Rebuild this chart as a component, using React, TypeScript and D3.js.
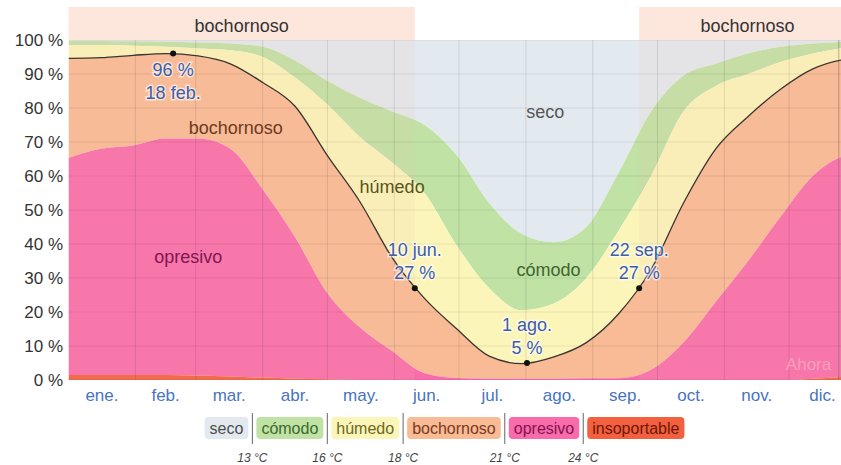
import * as d3 from "d3";
import { useEffect, useRef } from "react";

// day of year samples, ~every 15 days
const days = [0, 15, 30, 45, 60, 75, 90, 105, 120, 135, 150, 165, 180, 195, 210, 225, 240, 255, 270, 285, 300, 315, 330, 345, 360, 365];

// cumulative tops of each band (%)
const insoportableTop = [1.5, 1.5, 1.5, 1.5, 1.3, 1.0, 0.7, 0.4, 0.2, 0, 0, 0, 0, 0, 0, 0, 0, 0, 0, 0, 0, 0, 0, 0.4, 1.0, 1.3];
const opresivoTop = [65.3, 68, 69, 71, 71, 68, 56, 42, 25.5, 15.5, 8.5, 2, 0.6, 0.4, 0.4, 0.4, 0.5, 0.5, 3, 11, 23, 35, 48, 60, 66, 66.5];
const bochornosoTop = [94.6, 94.8, 95.5, 96, 95.3, 93, 87.5, 80.5, 66, 52.5, 36, 24, 15, 7, 4.8, 6.8, 11, 19.5, 32.5, 52, 68, 77.5, 85.5, 91.5, 94.3, 94.6];
const humedoTop = [98.5, 98.5, 98.3, 98, 97.5, 97, 95, 89, 81, 71.5, 64, 55, 39.5, 27, 20.5, 22.5, 30, 44, 60, 79, 86.5, 90, 93.5, 96, 97.8, 98.3];
const comodoTop = [99.7, 99.7, 99.6, 99.5, 99.3, 99, 98, 94, 88, 83, 79, 75, 66, 52, 43, 40.5, 45, 61, 79, 89.5, 93, 96, 98, 99, 99.5, 99.7];

const months = ["ene.", "feb.", "mar.", "abr.", "may.", "jun.", "jul.", "ago.", "sep.", "oct.", "nov.", "dic."];
const monthStarts = [0, 31, 59, 90, 120, 151, 181, 212, 243, 273, 304, 334, 365];
const yTicks = [0, 10, 20, 30, 40, 50, 60, 70, 80, 90, 100];

const highlights = [
  { day: 48.5, value: 96, lines: ["96 %", "18 feb."], below: true },
  { day: 160.5, value: 27, lines: ["10 jun.", "27 %"], below: false },
  { day: 212.5, value: 5, lines: ["1 ago.", "5 %"], below: false },
  { day: 264.5, value: 27, lines: ["22 sep.", "27 %"], below: false },
];
const muggyPeriods = [[0, 160.5], [264.5, 365]];
const nowDay = 357;

const legendNames = ["seco", "cómodo", "húmedo", "bochornoso", "opresivo", "insoportable"];
const legendFill = ["#e3eaef", "#c0e2a5", "#fcf5ba", "#f9bb95", "#f86cab", "#f2603f"];
const legendText = ["#4d4d4d", "#3c6a2c", "#6a6a22", "#7a3a1c", "#861250", "#6e1608"];
const thresholds = ["13 °C", "16 °C", "18 °C", "21 °C", "24 °C"];

const W = 841;
const H = 465;
const FONT = "'Liberation Sans', Arial, sans-serif";

export default function App() {
  const ref = useRef(null);

  useEffect(() => {
    const svg = d3.select(ref.current);
    svg.selectAll("*").remove();

    const x = d3.scaleLinear().domain([0, 365]).range([68.5, 856]);
    const y = d3.scaleLinear().domain([0, 100]).range([380, 40]);

    svg.append("defs").append("clipPath").attr("id", "plot")
      .append("rect").attr("x", x(0)).attr("y", y(100))
      .attr("width", x(365) - x(0)).attr("height", y(0) - y(100));

    // muggy period band above plot
    svg.append("g").selectAll("rect").data(muggyPeriods).join("rect")
      .attr("x", (d) => x(d[0])).attr("width", (d) => x(d[1]) - x(d[0]))
      .attr("y", 7).attr("height", y(100) - 7)
      .attr("fill", "#fde6dc");

    const plot = svg.append("g").attr("clip-path", "url(#plot)");

    const rows = days.map((d, i) => ({
      day: d,
      tops: [insoportableTop[i], opresivoTop[i], bochornosoTop[i], humedoTop[i], comodoTop[i], 100],
    }));

    // bands: index 0 insoportable ... 5 seco
    [5, 4, 3, 2, 1, 0].forEach((k) => {
      const area = d3.area()
        .x((d) => x(d.day))
        .y0((d) => y(k === 0 ? 0 : d.tops[k - 1]))
        .y1((d) => y(d.tops[k]))
        .curve(d3.curveMonotoneX);
      plot.append("path").datum(rows)
        .attr("d", area)
        .attr("fill", legendFill[5 - k]);
    });

    // overlay of muggy period over the plot
    plot.append("g").selectAll("rect").data(muggyPeriods).join("rect")
      .attr("x", (d) => x(d[0])).attr("width", (d) => x(d[1]) - x(d[0]))
      .attr("y", y(100)).attr("height", y(0) - y(100))
      .attr("fill", "#f0c0aa").attr("opacity", 0.13);

    // grid
    plot.append("g").selectAll("line").data(yTicks).join("line")
      .attr("x1", x(0)).attr("x2", x(365))
      .attr("y1", (d) => y(d)).attr("y2", (d) => y(d))
      .attr("stroke", "#000").attr("stroke-opacity", 0.08);
    plot.append("g").selectAll("line").data(monthStarts.slice(1, 12)).join("line")
      .attr("x1", (d) => x(d)).attr("x2", (d) => x(d))
      .attr("y1", y(100)).attr("y2", y(0))
      .attr("stroke", "#000").attr("stroke-opacity", 0.1);

    // now line
    plot.append("line")
      .attr("x1", x(nowDay)).attr("x2", x(nowDay))
      .attr("y1", y(100)).attr("y2", y(0))
      .attr("stroke", "#666").attr("stroke-opacity", 0.45);

    // muggy line
    const line = d3.line()
      .x((d) => x(d.day))
      .y((d) => y(d.tops[2]))
      .curve(d3.curveMonotoneX);
    plot.append("path").datum(rows)
      .attr("d", line)
      .attr("fill", "none")
      .attr("stroke", "#3b3530")
      .attr("stroke-width", 1.3);

    // region labels
    const labels = [
      { t: "seco", day: 221, v: 77, c: "#555" },
      { t: "bochornoso", day: 77.5, v: 72.5, c: "#6e3a1e" },
      { t: "húmedo", day: 150, v: 55, c: "#55551c" },
      { t: "opresivo", day: 55.5, v: 34.5, c: "#7f1650" },
      { t: "cómodo", day: 222.5, v: 30.5, c: "#3e6430" },
    ];
    svg.append("g").selectAll("text").data(labels).join("text")
      .attr("x", (d) => x(d.day)).attr("y", (d) => y(d.v))
      .attr("text-anchor", "middle")
      .attr("font-family", FONT).attr("font-size", 18)
      .attr("fill", (d) => d.c)
      .text((d) => d.t);

    svg.append("text")
      .attr("x", x(343)).attr("y", 370)
      .attr("text-anchor", "middle")
      .attr("font-family", FONT).attr("font-size", 17)
      .attr("fill", "#f79ec0")
      .text("Ahora");

    // top band labels
    svg.append("g").selectAll("text").data(muggyPeriods).join("text")
      .attr("x", (d) => (x(d[0]) + x(d[1])) / 2).attr("y", 32)
      .attr("text-anchor", "middle")
      .attr("font-family", FONT).attr("font-size", 18)
      .attr("fill", "#333")
      .text("bochornoso");

    // highlighted points
    const hl = svg.append("g");
    highlights.forEach((h) => {
      const px = x(h.day);
      const py = y(h.value);
      hl.append("circle").attr("cx", px).attr("cy", py).attr("r", 3).attr("fill", "#111");
      h.lines.forEach((t, i) => {
        const dy = h.below ? 22 + i * 23 : -32 + i * 23;
        hl.append("text")
          .attr("x", px).attr("y", py + dy)
          .attr("text-anchor", "middle")
          .attr("font-family", FONT).attr("font-size", 18)
          .attr("fill", "#3d5eaa")
          .attr("stroke", "#fff").attr("stroke-width", 3).attr("stroke-opacity", 0.6)
          .attr("paint-order", "stroke")
          .text(t);
      });
    });

    // y axis labels
    svg.append("g").selectAll("text").data(yTicks).join("text")
      .attr("x", 63).attr("y", (d) => y(d))
      .attr("dy", "0.36em")
      .attr("text-anchor", "end")
      .attr("font-family", FONT).attr("font-size", 17)
      .attr("fill", "#333")
      .text((d) => `${d} %`);

    // month labels
    svg.append("g").selectAll("text").data(months).join("text")
      .attr("x", (d, i) => (x(monthStarts[i]) + x(monthStarts[i + 1])) / 2)
      .attr("y", 401)
      .attr("text-anchor", "middle")
      .attr("font-family", FONT).attr("font-size", 17)
      .attr("fill", "#4774bf")
      .text((d) => d);

    // legend
    const leg = svg.append("g");
    const pad = 5;
    const items = legendNames.map((name, i) => {
      const t = leg.append("text")
        .attr("font-family", FONT).attr("font-size", 16)
        .attr("fill", legendText[i]).attr("text-anchor", "middle")
        .text(name);
      const w = (t.node() as any).getComputedTextLength() + pad * 2;
      return { t, w };
    });
    const gap = 4;
    const total = items.reduce((s, d) => s + d.w, 0) + (items.length - 1) * gap * 2;
    let cx = 444.5 - total / 2;
    items.forEach((it, i) => {
      leg.insert("rect", "text")
        .attr("x", cx).attr("y", 417).attr("width", it.w).attr("height", 22)
        .attr("rx", 4).attr("fill", legendFill[i]);
      it.t.attr("x", cx + it.w / 2).attr("y", 433.5);
      cx += it.w;
      if (i < items.length - 1) {
        const sx = cx + gap;
        leg.append("line")
          .attr("x1", sx).attr("x2", sx).attr("y1", 413).attr("y2", 444)
          .attr("stroke", "#666").attr("stroke-width", 1);
        leg.append("text")
          .attr("x", sx).attr("y", 462)
          .attr("text-anchor", "middle")
          .attr("font-family", FONT).attr("font-size", 12)
          .attr("font-style", "italic")
          .attr("fill", "#444")
          .text(thresholds[i]);
        cx = sx + gap;
      }
    });
  }, []);

  return (
    <svg
      ref={ref}
      width={W}
      height={H}
      style={{ position: "absolute", left: 0, top: 0, background: "#fff" }}
    />
  );
}
